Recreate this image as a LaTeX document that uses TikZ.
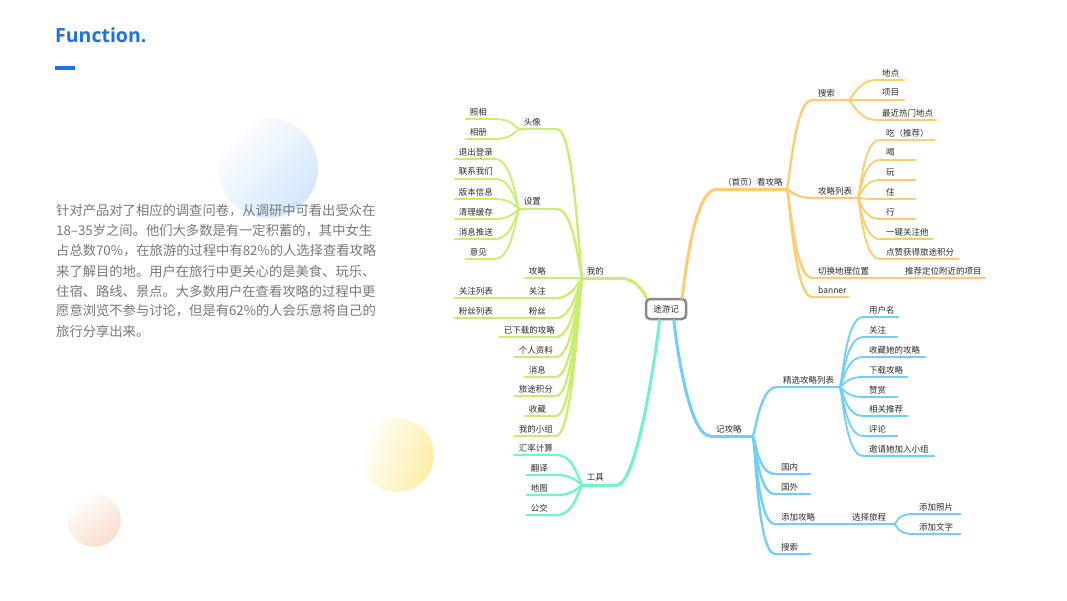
\documentclass[tikz,border=0pt]{standalone}
\usepackage{fontspec}
\setmainfont{Noto Sans CJK SC}
\newfontfamily\titlefont{Open Sans}
\usetikzlibrary{calc}
\definecolor{orb}{HTML}{FFCB6E}
\definecolor{grb}{HTML}{C8EE6E}
\definecolor{tqb}{HTML}{72F2CF}
\definecolor{blb}{HTML}{6FCFFB}
\definecolor{txtc}{HTML}{2B2B2B}
\definecolor{paragc}{HTML}{787878}
\definecolor{ttl}{HTML}{1E6FE8}
\definecolor{rootc}{HTML}{8A8A8A}
\definecolor{cblue}{HTML}{D2E7FB}
\definecolor{cyel}{HTML}{FDEEA6}
\definecolor{cpeach}{HTML}{FADDCC}
\tikzset{
  mm/.style={font=\fontsize{8.5}{10}\selectfont, text=txtc, inner xsep=0pt, inner ysep=0pt, minimum height=14pt, align=left},
  rn/.style={mm, anchor=south west},
  ln/.style={mm, anchor=south east},
  trunk/.style={line width=3pt, line cap=round},
  br/.style={line width=2.3pt, line cap=round},
  lf/.style={line width=1.8pt, line cap=round},
  para/.style={anchor=west, inner sep=0pt, font=\fontsize{13.3}{20}\selectfont, text=paragc},
}
\newcommand\RN[5]{\node[rn,text width=#4pt] (#1) at (#2,#3) {\kern6pt #5};}
\newcommand\LN[5]{\node[ln,text width=#4pt] (#1) at (#2,#3) {\kern4pt #5};}
\newcommand\RC[3]{\draw[#1] (#2.south east) .. controls +(3,0) and +(-18,0) .. (#3.south west);}
\newcommand\LC[3]{\draw[#1] (#2.south west) .. controls +(-3,0) and +(18,0) .. (#3.south east);}
\begin{document}
\begin{tikzpicture}[x=1pt,y=-1pt]
\useasboundingbox (0,0) rectangle (1067,600);
% decorative circles
\shade[top color=white, bottom color=cblue, shading angle=45] (268,168) circle[radius=50];
\shade[top color=white, bottom color=cyel, shading angle=70] (397,455) circle[radius=37];
\shade[top color=white, bottom color=cpeach, shading angle=35] (94,520) circle[radius=27];
% title
\node[anchor=base west, inner sep=0pt, font=\titlefont\bfseries\fontsize{19.5}{20}\selectfont, text=ttl] (title) at (55,42) {Function.};
\fill[ttl] (55,66) rectangle (75,70);
% paragraph
\node[para] (p1) at (56,211) {针对产品对了相应的调查问卷，从调研中可看出受众在};
\node[para] (p2) at (56,231) {18–35岁之间。他们大多数是有一定积蓄的，其中女生};
\node[para] (p3) at (56,251) {占总数70\%，在旅游的过程中有82\%的人选择查看攻略};
\node[para] (p4) at (56,271) {来了解目的地。用户在旅行中更关心的是美食、玩乐、};
\node[para] (p5) at (56,291) {住宿、路线、景点。大多数用户在查看攻略的过程中更};
\node[para] (p6) at (56,311) {愿意浏览不参与讨论，但是有62\%的人会乐意将自己的};
\node[para] (p7) at (56,331) {旅行分享出来。};
% root
\node[draw=rootc, line width=2.5pt, rounded corners=4pt, fill=white, minimum width=40pt, minimum height=20pt, inner sep=0pt, font=\fontsize{8.5}{10}\selectfont, text=txtc] (root) at (666,309) {途游记};
% ---------- orange branch
\RN{kan}{717}{189}{69}{（首页）看攻略}
\RN{sousuo}{812}{100}{36}{搜索}
\RN{didian}{876}{80}{28}{地点}
\RN{xiangmu}{876}{100}{28}{项目}
\RN{zuijin}{876}{120}{60}{最近热门地点}
\RN{gllb}{812}{198}{45}{攻略列表}
\RN{chi}{880}{140}{54}{吃（推荐）}
\RN{he}{880}{160}{35}{喝}
\RN{wan}{880}{180}{35}{玩}
\RN{zhu}{880}{199}{35}{住}
\RN{xing}{880}{219}{35}{行}
\RN{yijian}{880}{239}{52}{一键关注他}
\RN{dianzan}{880}{259}{78}{点赞获得旅途积分}
\RN{qiehuan}{812}{278}{60}{切换地理位置}
\RN{tuijian}{899}{278}{86}{推荐定位附近的项目}
\RN{banner}{812}{297}{36}{banner}
% ---------- green branch
\LN{wode}{620}{278}{37}{我的}
\LN{touxiang}{557}{129}{37}{头像}
\LN{zhaoxiang}{495}{119}{29}{照相}
\LN{xiangce}{495}{139}{29}{相册}
\LN{shezhi}{557}{209}{37}{设置}
\LN{tuichu}{495}{159}{40}{退出登录}
\LN{lianxi}{495}{179}{40}{联系我们}
\LN{banben}{495}{199}{40}{版本信息}
\LN{qingli}{495}{219}{40}{清理缓存}
\LN{tuisong}{495}{239}{40}{消息推送}
\LN{yijianfk}{495}{259}{29}{意见}
\LN{gonglue}{556}{278}{31}{攻略}
\LN{guanzhu}{556}{298}{31}{关注}
\LN{guanzhulb}{525}{298}{70}{关注列表}
\LN{fensi}{556}{318}{31}{粉丝}
\LN{fensilb}{525}{318}{70}{粉丝列表}
\LN{yixiazai}{556}{337}{56}{已下载的攻略}
\LN{geren}{556}{357}{41}{个人资料}
\LN{xiaoxi}{556}{377}{31}{消息}
\LN{lvtu}{556}{396}{41}{旅途积分}
\LN{shoucang}{556}{416}{31}{收藏}
\LN{xiaozu}{556}{436}{41}{我的小组}
% ---------- teal branch
\LN{gongju}{617}{485}{34}{工具}
\LN{huilv}{557}{455}{42}{汇率计算}
\LN{fanyi}{557}{475}{30}{翻译}
\LN{ditu}{557}{495}{30}{地图}
\LN{gongjiao}{557}{515}{30}{公交}
% ---------- blue branch
\RN{jigl}{710}{436}{42}{记攻略}
\RN{jingxuan}{777}{387}{62}{精选攻略列表}
\RN{yonghu}{863}{317}{35}{用户名}
\RN{guanzhub}{863}{337}{34}{关注}
\RN{shoucangta}{863}{357}{62}{收藏她的攻略}
\RN{xiazai}{863}{377}{44}{下载攻略}
\RN{zanshang}{863}{397}{34}{赞赏}
\RN{xiangguan}{863}{416}{44}{相关推荐}
\RN{pinglun}{863}{436}{34}{评论}
\RN{yaoqing}{863}{456}{71}{邀请她加入小组}
\RN{guonei}{775}{474}{35}{国内}
\RN{guowai}{775}{494}{35}{国外}
\RN{tianjia}{775}{524}{50}{添加攻略}
\RN{xuanze}{846}{524}{48}{选择旅程}
\RN{zhaopian}{913}{514}{47}{添加照片}
\RN{wenzi}{913}{534}{47}{添加文字}
\RN{sousuob}{775}{554}{35}{搜索}
% ---------- orange connectors
\begin{scope}[color=orb]
\draw[trunk] (root.35) .. controls +(4,-30) and +(-22,0) .. (kan.south west);
\draw[trunk] (kan.south west) -- (kan.south east);
\foreach \c in {sousuo,gllb,qiehuan,banner} {\RC{br}{kan}{\c}}
\foreach \n in {sousuo,gllb,qiehuan} \draw[br] (\n.south west) -- (\n.south east);
\draw[lf] (banner.south west) -- (banner.south east);
\foreach \c in {didian,xiangmu,zuijin} {\RC{lf}{sousuo}{\c}}
\foreach \c in {chi,he,wan,zhu,xing,yijian,dianzan} {\RC{lf}{gllb}{\c}}
\draw[lf] (qiehuan.south east) -- (tuijian.south west);
\foreach \n in {didian,xiangmu,zuijin,chi,he,wan,zhu,xing,yijian,dianzan,tuijian} \draw[lf] (\n.south west) -- (\n.south east);
\end{scope}
% ---------- green connectors
\begin{scope}[color=grb]
\draw[trunk] (root.150) .. controls +(-4,-8) and +(14,0) .. (wode.south east);
\draw[trunk] (wode.south west) -- (wode.south east);
\foreach \c in {touxiang,shezhi,gonglue,guanzhu,fensi,yixiazai,geren,xiaoxi,lvtu,shoucang,xiaozu} {\LC{br}{wode}{\c}}
\foreach \n in {touxiang,shezhi,gonglue,guanzhu,fensi,yixiazai,geren,xiaoxi,lvtu,shoucang,xiaozu} \draw[br] (\n.south west) -- (\n.south east);
\foreach \c in {zhaoxiang,xiangce} {\LC{lf}{touxiang}{\c}}
\foreach \c in {tuichu,lianxi,banben,qingli,tuisong,yijianfk} {\LC{lf}{shezhi}{\c}}
\draw[lf] (guanzhu.south west) -- (guanzhulb.south east);
\draw[lf] (fensi.south west) -- (fensilb.south east);
\foreach \n in {zhaoxiang,xiangce,tuichu,lianxi,banben,qingli,tuisong,yijianfk,guanzhulb,fensilb} \draw[lf] (\n.south west) -- (\n.south east);
\end{scope}
% ---------- teal connectors
\begin{scope}[color=tqb]
\draw[trunk] (root.240) .. controls +(-3,30) and +(20,0) .. (gongju.south east);
\draw[trunk] (gongju.south west) -- (gongju.south east);
\foreach \c in {huilv,fanyi,ditu,gongjiao} {\LC{br}{gongju}{\c}}
\foreach \n in {huilv,fanyi,ditu,gongjiao} \draw[br] (\n.south west) -- (\n.south east);
\end{scope}
% ---------- blue connectors
\begin{scope}[color=blb]
\draw[trunk] (root.305) .. controls +(3,30) and +(-20,0) .. (jigl.south west);
\draw[trunk] (jigl.south west) -- (jigl.south east);
\foreach \c in {jingxuan,guonei,guowai,tianjia,sousuob} {\RC{br}{jigl}{\c}}
\foreach \n in {jingxuan,guonei,guowai,tianjia,sousuob} \draw[br] (\n.south west) -- (\n.south east);
\foreach \c in {yonghu,guanzhub,shoucangta,xiazai,zanshang,xiangguan,pinglun,yaoqing} {\RC{lf}{jingxuan}{\c}}
\draw[lf] (tianjia.south east) -- (xuanze.south west);
\foreach \c in {zhaopian,wenzi} {\RC{lf}{xuanze}{\c}}
\foreach \n in {yonghu,guanzhub,shoucangta,xiazai,zanshang,xiangguan,pinglun,yaoqing,xuanze,zhaopian,wenzi} \draw[lf] (\n.south west) -- (\n.south east);
\end{scope}
\end{tikzpicture}
\end{document}
